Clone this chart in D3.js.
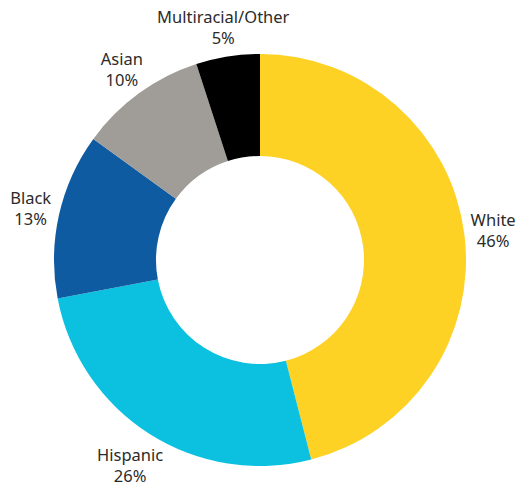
<!DOCTYPE html>
<html>
<head>
<meta charset="utf-8">
<script src="https://cdn.jsdelivr.net/npm/d3@7"></script>
<style>
  body { margin: 0; background: #fff; }
  text { font-family: "Noto Sans", sans-serif; font-size: 16.5px; fill: #2b2b2b; }
</style>
</head>
<body>
<svg id="chart"></svg>
<script>
const categories = ['White', 'Hispanic', 'Black', 'Asian', 'Multiracial/Other']
const values = [46, 26, 13, 10, 5]
const colors = ['#fed125', '#0cc0df', '#0f5ba1', '#a09c98', '#000000']

const width = 518, height = 487
const cx = 260, cy = 260
const outerRadius = 206, innerRadius = 104, labelRadius = 235

// small nudge so the Hispanic label sits where the original put it
const nudge = {
    'Hispanic': [-4, 7]
}

const svg = d3.select('#chart').attr('width', width).attr('height', height)
const g = svg.append('g').attr('transform', `translate(${cx}, ${cy})`)

const data = categories.map((c, i) => ({name: c, value: values[i], color: colors[i]}))

const pie = d3.pie().value(d => d.value).sort(null)
const arc = d3.arc().innerRadius(innerRadius).outerRadius(outerRadius)
const labelArc = d3.arc().innerRadius(labelRadius).outerRadius(labelRadius)

const arcs = pie(data)

g.selectAll('path.slice').data(arcs).enter().append('path')
    .classed('slice', true)
    .attr('fill', d => d.data.color)
    .attr('d', arc)

const label = g.selectAll('text.label').data(arcs).enter().append('text')
    .classed('label', true)
    .attr('text-anchor', 'middle')
    .attr('transform', d => {
        const [x, y] = labelArc.centroid(d)
        const n = nudge[d.data.name] || [0, 0]
        return `translate(${x + n[0]}, ${y + n[1]})`
    })

label.append('tspan')
    .attr('x', 0).attr('y', -10.5).attr('dy', '0.35em')
    .text(d => d.data.name)
label.append('tspan')
    .attr('x', 0).attr('y', 10.5).attr('dy', '0.35em')
    .text(d => `${d.data.value}%`)
</script>
</body>
</html>
